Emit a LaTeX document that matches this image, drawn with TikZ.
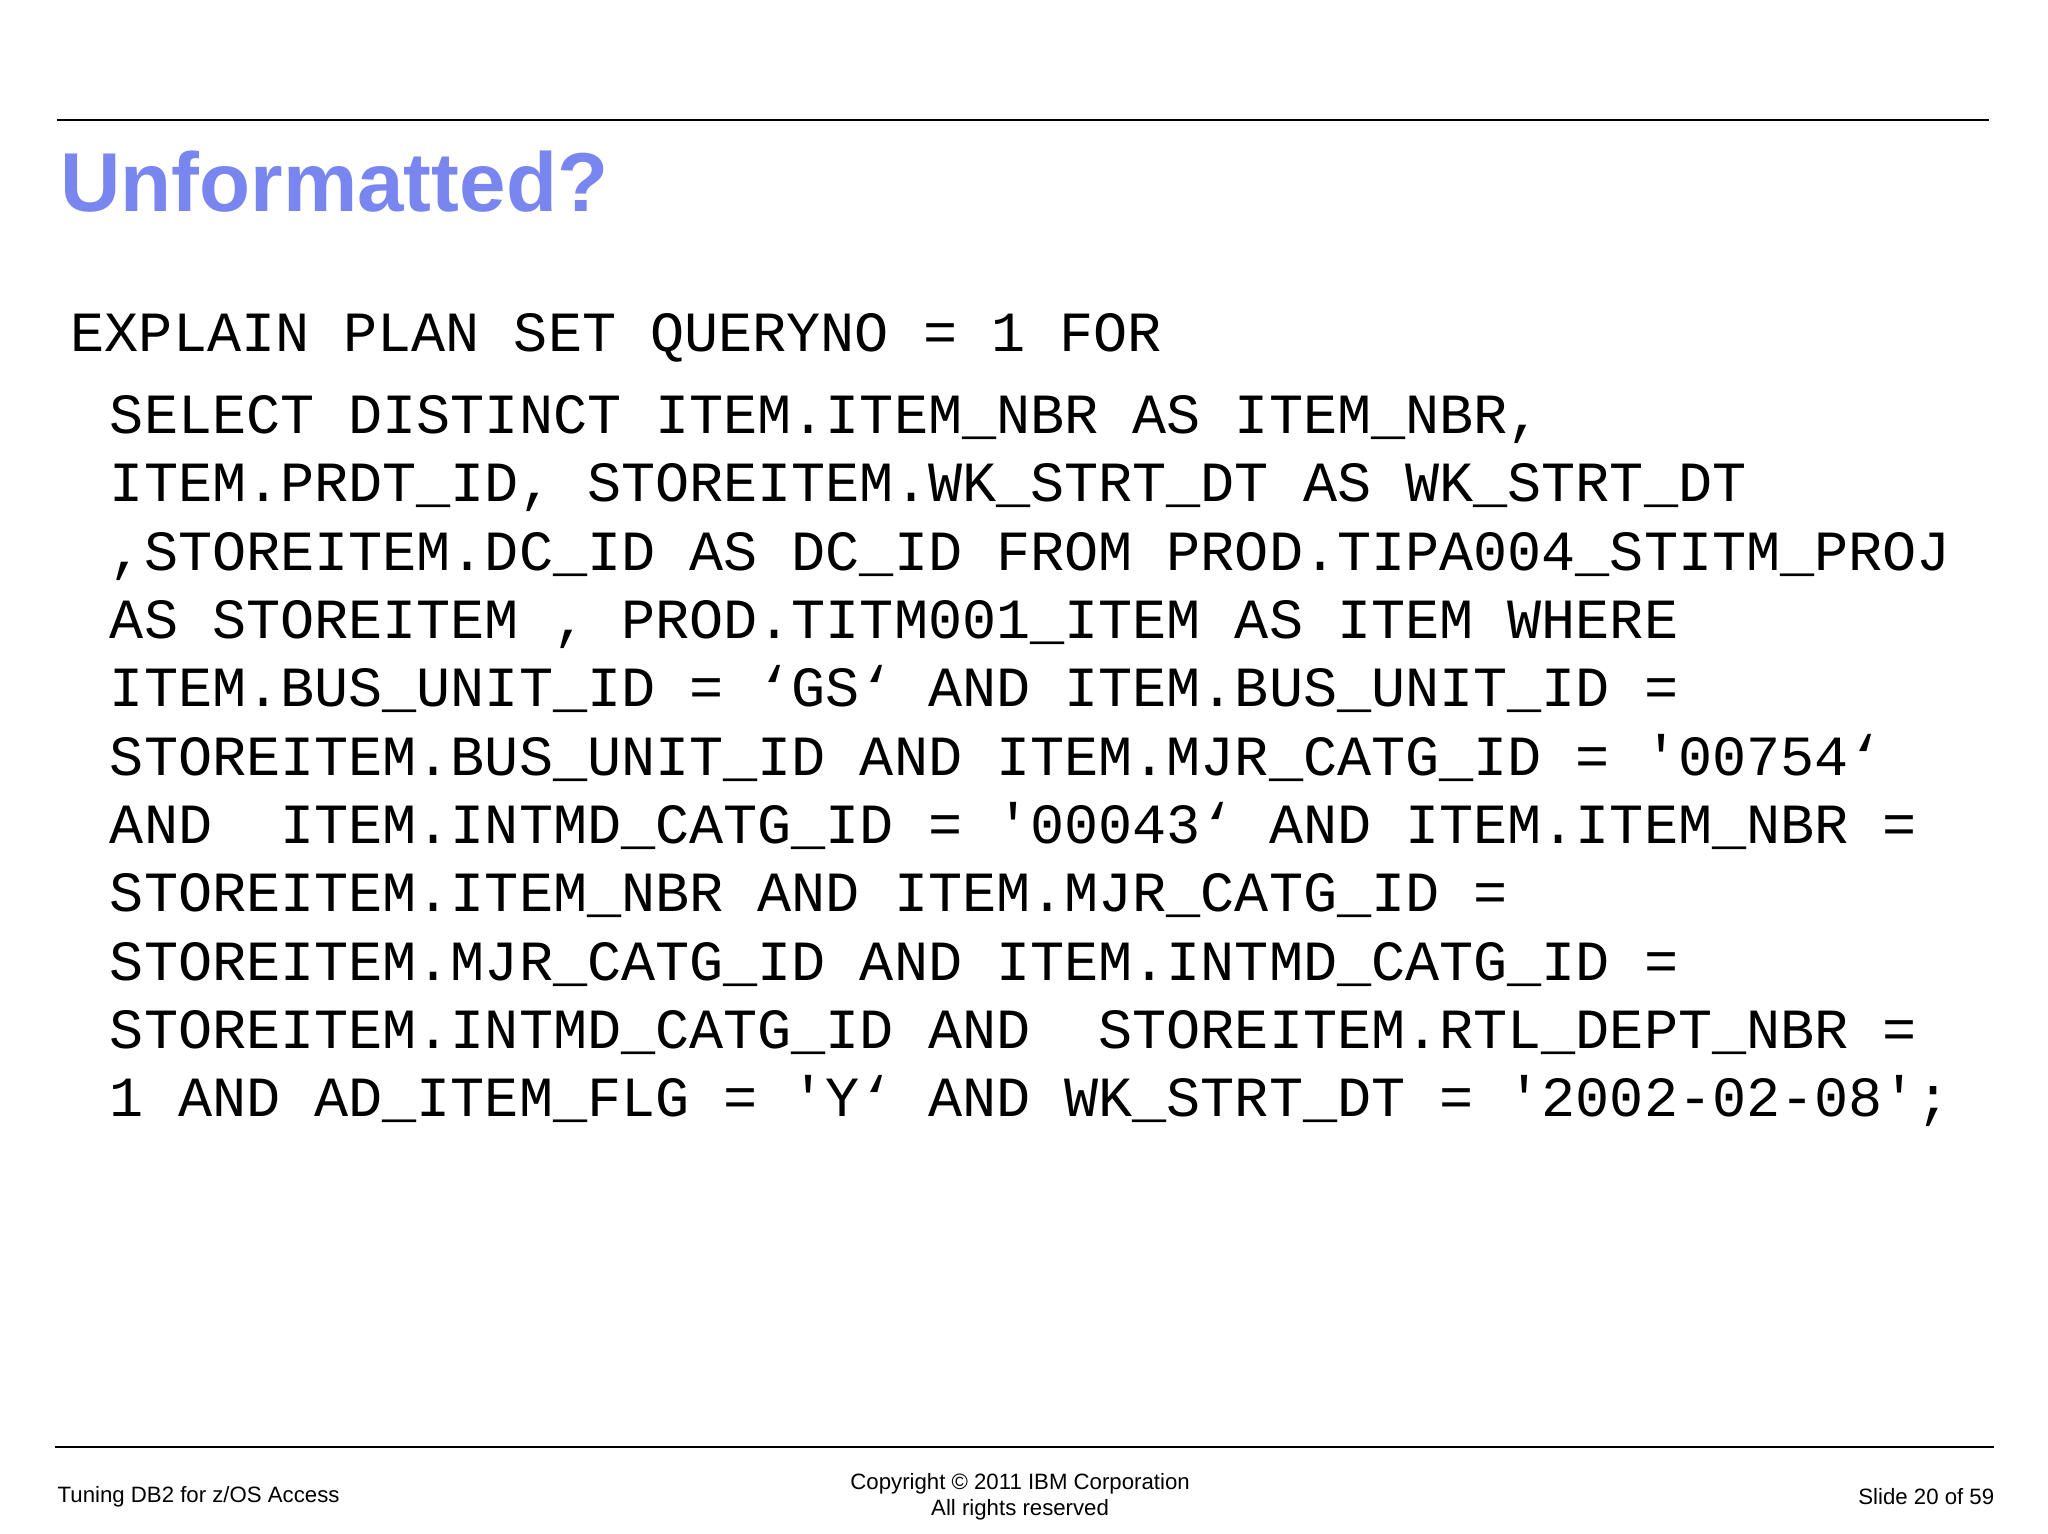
\documentclass[tikz,border=0pt]{standalone}
\usepackage{fontspec}
\setmainfont{Liberation Sans}
\newfontfamily\codefont{Liberation Mono}
\definecolor{titleblue}{RGB}{122,134,240}
\tikzset{code/.style={anchor=base west,inner sep=0pt,font=\codefont\fontsize{43.5}{50}\selectfont},
foot/.style={inner sep=0pt,font=\fontsize{17}{20}\selectfont,align=center}}
\begin{document}
\begin{tikzpicture}[x=1pt,y=-1pt]
\useasboundingbox (0,0) rectangle (1568,1174);
\fill[white] (0,0) rectangle (1568,1174);
\draw[line width=1.5pt] (44,92) -- (1523,92);
\draw[line width=1.5pt] (42,1108) -- (1527,1108);
\node[anchor=base west,inner sep=0pt,text=titleblue,font=\bfseries\fontsize{64}{70}\selectfont] (title) at (46,162) {Unformatted?};
\node[code] (l0) at (54,269) {EXPLAIN PLAN SET QUERYNO = 1 FOR};
\node[code] (l1) at (84,332) {SELECT DISTINCT ITEM.ITEM\_NBR AS ITEM\_NBR,};
\node[code] (l2) at (84,384) {ITEM.PRDT\_ID, STOREITEM.WK\_STRT\_DT AS WK\_STRT\_DT};
\node[code] (l3) at (84,437) {,STOREITEM.DC\_ID AS DC\_ID FROM PROD.TIPA004\_STITM\_PROJ};
\node[code] (l4) at (84,489) {AS STOREITEM , PROD.TITM001\_ITEM AS ITEM WHERE};
\node[code] (l5) at (84,541) {ITEM.BUS\_UNIT\_ID = ‘GS‘ AND ITEM.BUS\_UNIT\_ID =};
\node[code] (l6) at (84,594) {STOREITEM.BUS\_UNIT\_ID AND ITEM.MJR\_CATG\_ID = '00754‘};
\node[code] (l7) at (84,646) {AND\ \ ITEM.INTMD\_CATG\_ID = '00043‘ AND ITEM.ITEM\_NBR =};
\node[code] (l8) at (84,698) {STOREITEM.ITEM\_NBR AND ITEM.MJR\_CATG\_ID =};
\node[code] (l9) at (84,751) {STOREITEM.MJR\_CATG\_ID AND ITEM.INTMD\_CATG\_ID =};
\node[code] (l10) at (84,803) {STOREITEM.INTMD\_CATG\_ID AND\ \ STOREITEM.RTL\_DEPT\_NBR =};
\node[code] (l11) at (84,855) {1 AND AD\_ITEM\_FLG = 'Y‘ AND WK\_STRT\_DT = '2002-02-08';};
\node[foot,anchor=west] (f1) at (44,1146) {Tuning DB2 for z/OS Access};
\node[foot] (f2) at (781,1146) {Copyright © 2011 IBM Corporation\\All rights reserved};
\node[foot,anchor=east] (f3) at (1527,1146) {Slide 20 of 59};
\end{tikzpicture}
\end{document}
